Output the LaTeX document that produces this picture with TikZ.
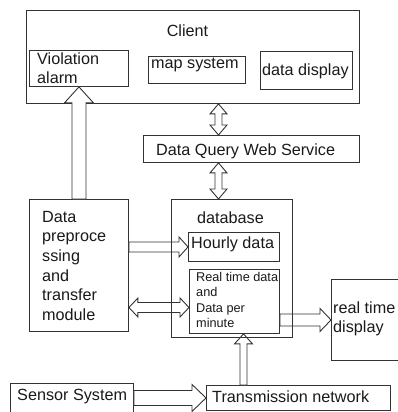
\documentclass[tikz,border=0pt]{standalone}
\usepackage{fontspec}
\setmainfont{Liberation Sans}
\usetikzlibrary{calc}
\definecolor{linec}{HTML}{333333}
\definecolor{textc}{HTML}{1A1A1A}
\newcommand\mlines[1]{\begin{tabular}[t]{@{}l@{}}#1\end{tabular}}
\tikzset{
  box/.style={draw=linec, line width=0.9pt, rectangle, inner sep=0pt, anchor=north west},
  txt/.style={anchor=base west, inner sep=0pt, text=textc, font=\fontsize{16.2}{19.7}\selectfont},
  stxt/.style={anchor=base west, inner sep=0pt, text=textc, font=\fontsize{12.7}{15.6}\selectfont},
  harr/.style={draw=linec, line width=0.9pt, fill=white, line join=miter},
  boxline/.style={draw=linec, line width=0.9pt},
}
% hollow single arrow: start, tip, shaft half width, head half width, head length
\newcommand\harrow[5]{%
  \coordinate (hA) at (#1); \coordinate (hB) at (#2);
  \coordinate (hb) at ($(hB)!#5!(hA)$);
  \draw[harr] ($(hA)!#3!90:(hB)$) -- ($(hb)!#3!-90:(hA)$) -- ($(hb)!#4!-90:(hA)$) -- (hB)
    -- ($(hb)!#4!90:(hA)$) -- ($(hb)!#3!90:(hA)$) -- ($(hA)!#3!-90:(hB)$) -- cycle;}
% hollow double arrow
\newcommand\hdarrow[5]{%
  \coordinate (hA) at (#1); \coordinate (hB) at (#2);
  \coordinate (hb) at ($(hB)!#5!(hA)$); \coordinate (ha) at ($(hA)!#5!(hB)$);
  \draw[harr] (hA) -- ($(ha)!#4!90:(hB)$) -- ($(ha)!#3!90:(hB)$) -- ($(hb)!#3!-90:(hA)$)
    -- ($(hb)!#4!-90:(hA)$) -- (hB) -- ($(hb)!#4!90:(hA)$) -- ($(hb)!#3!90:(hA)$)
    -- ($(ha)!#3!-90:(hB)$) -- ($(ha)!#4!-90:(hB)$) -- cycle;}
\begin{document}
\begin{tikzpicture}[x=1pt,y=-1pt]
\useasboundingbox (0,0) rectangle (398,412);
\fill[white] (0,0) rectangle (398,412);
\clip (0,0) rectangle (398,412);

% boxes
\node[box, minimum width=333.5pt, minimum height=92.5pt] (client) at (25.5,10.5) {};
\node[box, minimum width=99pt, minimum height=35.5pt] (viol) at (29,50.5) {};
\node[box, minimum width=97pt, minimum height=27pt] (map) at (148,56) {};
\node[box, minimum width=92pt, minimum height=38pt] (dd) at (260,51) {};
\node[box, minimum width=216pt, minimum height=27pt] (dqws) at (143,135) {};
\node[box, minimum width=99pt, minimum height=132pt] (dp) at (29,199) {};
\node[box, minimum width=121pt, minimum height=138pt] (db) at (171,199) {};
\node[box, minimum width=91pt, minimum height=29pt] (hourly) at (188,232) {};
\node[box, minimum width=90pt, minimum height=64pt] (rt) at (189,269) {};
\node[box, minimum width=80pt, minimum height=81pt] (rtd) at (331,279) {};
\node[box, minimum width=123pt, minimum height=40pt] (sensor) at (10,383) {};
\node[box, minimum width=184pt, minimum height=25pt] (trans) at (206,385) {};

% texts
\node[txt, anchor=base] (tclient) at (187.5,37) {Client};
\node[txt] (tviol) at (37,64) {\mlines{Violation\\alarm}};
\node[txt] (tmap) at (151,69) {map system};
\node[txt] (tdd) at (262,75) {data display};
\node[txt] (tdqws) at (156,155.7) {Data Query Web Service};
\node[txt] (tdp) at (42,222) {\mlines{Data\\preproce\\ssing\\and\\transfer\\module}};
\node[txt] (tdb) at (197,223) {database};
\node[txt] (thourly) at (191,248) {Hourly data};
\node[stxt] (trt) at (196,281) {\mlines{Real time data\\and\\Data per\\minute}};
\node[txt] (trtd) at (333,313) {\mlines{real time\\display}};
\node[txt] (tsensor) at (17,400) {Sensor System};
\node[txt] (ttrans) at (212,402.7) {Transmission network};

% arrows
\harrow{dp.north}{viol.south}{7pt}{14.5pt}{16pt}
\coordinate (ax1) at (218.5,0);
\hdarrow{ax1 |- client.south}{ax1 |- dqws.north}{3.5pt}{8.5pt}{10pt}
\hdarrow{ax1 |- dqws.south}{ax1 |- db.north}{3.5pt}{8.5pt}{10pt}
\harrow{dp.east |- hourly.west}{hourly.west}{5pt}{10pt}{9pt}
\coordinate (ay1) at (0,307.5);
\hdarrow{dp.east |- ay1}{rt.west |- ay1}{5pt}{9.5pt}{9pt}
\harrow{rt.east |- rtd.west}{rtd.west}{6pt}{11.5pt}{11pt}
\coordinate (ax2) at (243.5,0);
\harrow{ax2 |- trans.north}{ax2 |- rt.south}{3.5pt}{9pt}{10pt}
\harrow{sensor.east |- trans.west}{trans.west}{7.5pt}{13.5pt}{14pt}

% database border visible through the arrows
\draw[boxline] (db.north west) rectangle (db.south east);
\end{tikzpicture}
\end{document}
